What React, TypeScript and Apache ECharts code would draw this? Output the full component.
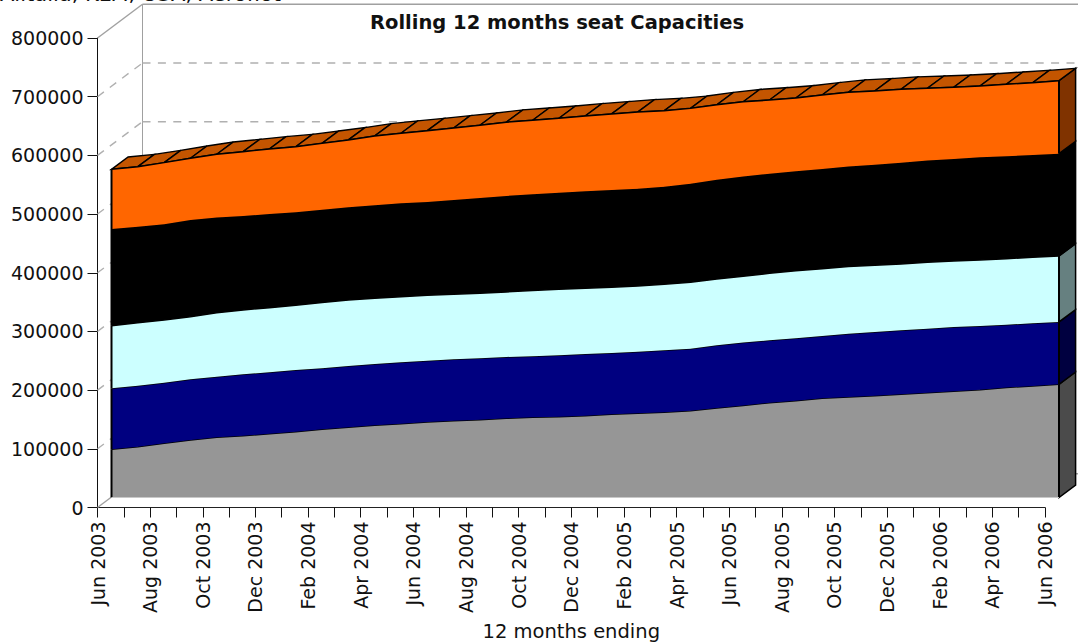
import React, { useEffect, useRef } from "react";
import * as echarts from "echarts";

const categories = ["Jun 2003","Jul 2003","Aug 2003","Sep 2003","Oct 2003","Nov 2003","Dec 2003","Jan 2004","Feb 2004","Mar 2004","Apr 2004","May 2004","Jun 2004","Jul 2004","Aug 2004","Sep 2004","Oct 2004","Nov 2004","Dec 2004","Jan 2005","Feb 2005","Mar 2005","Apr 2005","May 2005","Jun 2005","Jul 2005","Aug 2005","Sep 2005","Oct 2005","Nov 2005","Dec 2005","Jan 2006","Feb 2006","Mar 2006","Apr 2006","May 2006","Jun 2006"];
const greySeries = [82100,86600,92400,98000,102600,105300,108700,112100,116200,119600,123000,125800,128700,130900,132600,135000,136700,137700,139400,141800,143500,145200,147900,152500,156900,161500,164900,169000,171300,173500,175900,178600,181000,183500,187400,190000,192900];
const navySeries = [103900,103900,103300,103400,103300,104600,104600,105100,104100,104500,104500,104600,104500,104600,104600,104500,104100,104600,105100,104500,105000,105600,105600,106800,107200,106300,106300,106200,107900,108500,109100,109100,109600,108700,107000,106800,106200];
const cyanSeries = [106700,107400,106800,106700,109100,109600,110100,110200,112000,112500,112000,111800,111400,110800,110800,110800,112000,112500,112000,112000,112000,112500,113100,113000,113000,114200,115200,114700,114200,113700,113000,113100,112500,112500,112500,112500,112500];
const blackSeries = [164800,163600,163100,164800,161900,160200,159700,158500,158100,158000,158500,159200,159000,160700,162400,163600,164100,164600,165300,165800,165800,166300,168000,169200,169900,169700,169400,169900,170400,171400,172600,173500,173600,175000,174500,174300,174300];
const orangeSeries = [101700,102200,105000,105100,108000,109600,110800,111800,113100,114700,118100,119300,121500,122700,123900,125600,125900,126800,128300,129500,130700,129500,128500,127800,127300,125600,124900,126100,126800,125600,125100,123000,122300,121500,122700,123200,124400];
const wallTicks = [0,100000,200000,300000,400000,500000,600000,700000,800000];

const FONT = "'DejaVu Sans', Verdana, sans-serif";
const FRONT = [14, -10];
const DEPTH = [16.6, -12.3];
const WALL = [45, -33.7];

const layers = [
  { values: greySeries, front: "#969696", side: "#4b4b4b", top: "#707070" },
  { values: navySeries, front: "#000080", side: "#000040", top: "#000060" },
  { values: cyanSeries, front: "#ccffff", side: "#668080", top: "#99bfbf" },
  { values: blackSeries, front: "#000000", side: "#000000", top: "#000000" },
  { values: orangeSeries, front: "#ff6600", side: "#803300", top: "#c45500" },
];

function layerRows(index: number) {
  return categories.map((_, i) => {
    let lower = 0;
    for (let k = 0; k < index; k++) lower += layers[k].values[i];
    return [i, lower, lower + layers[index].values[i]];
  });
}

const shift = (p: number[], d: number[]) => [p[0] + d[0], p[1] + d[1]];

function makeLayerSeries(index: number) {
  const rows = layerRows(index);
  const isTop = index === layers.length - 1;
  const layer = layers[index];
  return {
    type: "custom",
    coordinateSystem: "cartesian2d",
    silent: true,
    z: 5 + index,
    encode: { x: 0, y: 2 },
    data: rows,
    renderItem: (params: any, api: any) => {
      if (params.dataIndex !== 0) return null;
      const up = rows.map((r) => shift(api.coord([r[0], r[2]]), FRONT));
      const lo = rows.map((r) => shift(api.coord([r[0], r[1]]), FRONT));
      const last = up.length - 1;
      const children: any[] = [];
      const edge = { stroke: "#000", lineWidth: 1.5, fill: "none" };
      children.push({
        type: "polygon",
        shape: { points: [up[last], lo[last], shift(lo[last], DEPTH), shift(up[last], DEPTH)] },
        style: { fill: layer.side, stroke: "#000", lineWidth: 1.5 },
      });
      if (isTop) {
        for (let i = 0; i < last; i++) {
          children.push({
            type: "polygon",
            shape: { points: [up[i], up[i + 1], shift(up[i + 1], DEPTH), shift(up[i], DEPTH)] },
            style: { fill: layer.top, stroke: "#000", lineWidth: 1.4 },
          });
        }
      }
      children.push({
        type: "polygon",
        shape: { points: [...up, ...lo.slice().reverse()] },
        style: { fill: layer.front, stroke: "none" },
      });
      children.push({ type: "polyline", shape: { points: up }, style: edge });
      children.push({ type: "line", shape: { x1: up[0][0], y1: up[0][1], x2: lo[0][0], y2: lo[0][1] }, style: { stroke: "#000", lineWidth: 2 } });
      children.push({ type: "line", shape: { x1: up[last][0], y1: up[last][1], x2: lo[last][0], y2: lo[last][1] }, style: { stroke: "#000", lineWidth: 2 } });
      if (index === 0) {
        children.push({ type: "polyline", shape: { points: lo }, style: { stroke: "#c8c8c8", lineWidth: 1, fill: "none" } });
      }
      return { type: "group", children };
    },
  };
}

const wallSeries = {
  type: "custom",
  coordinateSystem: "cartesian2d",
  silent: true,
  z: 1,
  encode: { x: 0, y: 1 },
  data: wallTicks.map((v) => [0, v]),
  renderItem: (params: any, api: any) => {
    const v = api.value(1);
    const a = api.coord([0, v]);
    const b = shift(a, WALL);
    const end = shift(api.coord([categories.length - 1, v]), WALL);
    const solid = v === 0 || v === 800000;
    const style = { stroke: solid ? "#a0a0a0" : "#b0b0b0", lineWidth: 1.4, lineDash: solid ? undefined : [8, 7.4], fill: "none" };
    const children: any[] = [
      { type: "line", shape: { x1: a[0], y1: a[1], x2: b[0], y2: b[1] }, style },
      { type: "line", shape: { x1: b[0], y1: b[1], x2: end[0], y2: end[1] }, style },
    ];
    if (v === 0) {
      const t = shift(api.coord([0, 800000]), WALL);
      children.push({ type: "line", shape: { x1: b[0], y1: b[1], x2: t[0], y2: t[1] }, style: { stroke: "#a0a0a0", lineWidth: 1 } });
    }
    return { type: "group", children };
  },
};

export default function App() {
  const ref = useRef<HTMLDivElement>(null);
  useEffect(() => {
    document.body.style.margin = "0";
    const chart = echarts.init(ref.current!, undefined, { renderer: "svg" });
    chart.setOption({
      animation: false,
      backgroundColor: "#ffffff",
      textStyle: { fontFamily: FONT },
      title: {
        text: "Rolling 12 months seat Capacities",
        left: 552,
        textAlign: "center",
        top: 7,
        textStyle: { fontFamily: FONT, fontSize: 19.5, fontWeight: "bold", color: "#111" },
      },
      graphic: [
        { type: "text", x: 0, y: 4, style: { text: "Alitalia, KLM, USA, Aeroflot", fontFamily: FONT, fontSize: 21, fill: "#111", textVerticalAlign: "bottom" } },
      ],
      grid: { left: 97.5, top: 38, width: 947.5, height: 469.5, containLabel: false, outerBoundsMode: "none" },
      xAxis: {
        type: "category",
        data: categories,
        boundaryGap: false,
        name: "12 months ending",
        nameLocation: "middle",
        nameGap: 114,
        nameTextStyle: { fontFamily: FONT, fontSize: 19.5, color: "#111" },
        axisLine: { lineStyle: { color: "#222", width: 1 } },
        axisTick: { show: true, interval: 0, length: 10, lineStyle: { color: "#111" } },
        axisLabel: { interval: 1, rotate: 90, margin: 14, fontFamily: FONT, fontSize: 19, color: "#111" },
        splitLine: { show: false },
      },
      yAxis: {
        type: "value",
        min: 0,
        max: 800000,
        interval: 100000,
        axisLine: { show: true, lineStyle: { color: "#111", width: 1 } },
        axisTick: { show: true, length: 10, lineStyle: { color: "#111" } },
        axisLabel: { margin: 14, fontFamily: FONT, fontSize: 19, color: "#111", formatter: (v: number) => String(v) },
        splitLine: { show: false },
      },
      series: [wallSeries, ...layers.map((_, i) => makeLayerSeries(i))],
    });
    return () => chart.dispose();
  }, []);
  return <div ref={ref} style={{ position: "absolute", left: 0, top: 0, width: 1078, height: 642 }} />;
}
